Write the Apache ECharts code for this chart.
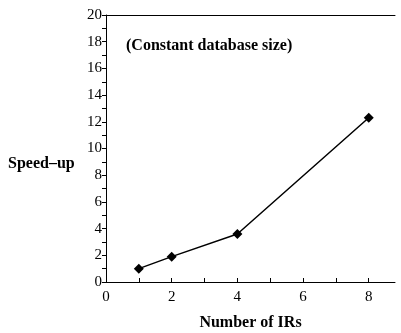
<!DOCTYPE html>
<html>
<head>
<meta charset="utf-8">
<script src="https://cdn.jsdelivr.net/npm/echarts@6/dist/echarts.min.js"></script>
<style>
  html, body { margin: 0; padding: 0; background: #fff; }
  #chart { width: 401px; height: 333px; }
</style>
</head>
<body>
<div id="chart"></div>
<script>
// values
var irCount = [1, 2, 4, 8];
var speedUp = [1.0, 1.9, 3.6, 12.3];

var serif = '"Liberation Serif", "DejaVu Serif", serif';

var points = [];
for (var i = 0; i < irCount.length; i++) {
    points.push([irCount[i], speedUp[i]]);
}

var evenOnly = function (v) {
    return v % 2 === 0 ? String(v) : '';
};

var myChart = echarts.init(document.getElementById('chart'));
myChart.setOption({
    animation: false,
    backgroundColor: '#fff',
    grid: {
        left: 106,
        top: 15,
        right: 6,
        bottom: 51,
        outerBoundsMode: 'none'
    },
    title: {
        text: '(Constant database size)',
        left: 121,
        top: 33,
        textStyle: {
            fontFamily: serif,
            fontWeight: 'bold',
            fontSize: 16,
            color: '#000'
        }
    },
    graphic: [
        {
            type: 'text',
            left: 8,
            top: 156,
            style: {
                text: 'Speed\u2013up',
                font: 'bold 16px ' + serif,
                fill: '#000'
            }
        }
    ],
    xAxis: [
        {
            type: 'value',
            min: 0,
            max: 8.8,
            interval: 1,
            name: 'Number of IRs',
            nameLocation: 'middle',
            nameGap: 33,
            nameTextStyle: {
                fontFamily: serif,
                fontWeight: 'bold',
                fontSize: 16,
                color: '#000'
            },
            axisLine: { lineStyle: { color: '#000', width: 1 } },
            axisTick: { inside: true, length: 4, lineStyle: { color: '#000' } },
            axisLabel: {
                formatter: evenOnly,
                fontFamily: serif,
                fontSize: 15,
                color: '#000',
                margin: 8,
                showMaxLabel: false
            },
            splitLine: { show: false }
        },
        {
            type: 'value',
            position: 'top',
            min: 0,
            max: 8.8,
            axisLine: { show: true, lineStyle: { color: '#000', width: 1 } },
            axisTick: { show: false },
            axisLabel: { show: false },
            splitLine: { show: false }
        }
    ],
    yAxis: {
        type: 'value',
        min: 0,
        max: 20,
        interval: 1,
        axisLine: { show: true, lineStyle: { color: '#000', width: 1 } },
        axisTick: { length: 4, lineStyle: { color: '#000' } },
        axisLabel: {
            formatter: evenOnly,
            fontFamily: serif,
            fontSize: 15,
            color: '#000',
            margin: 4
        },
        splitLine: { show: false }
    },
    series: [{
        type: 'line',
        data: points,
        symbol: 'diamond',
        symbolSize: 10,
        lineStyle: { color: '#000', width: 1.5 },
        itemStyle: { color: '#000' }
    }]
});
</script>
</body>
</html>
